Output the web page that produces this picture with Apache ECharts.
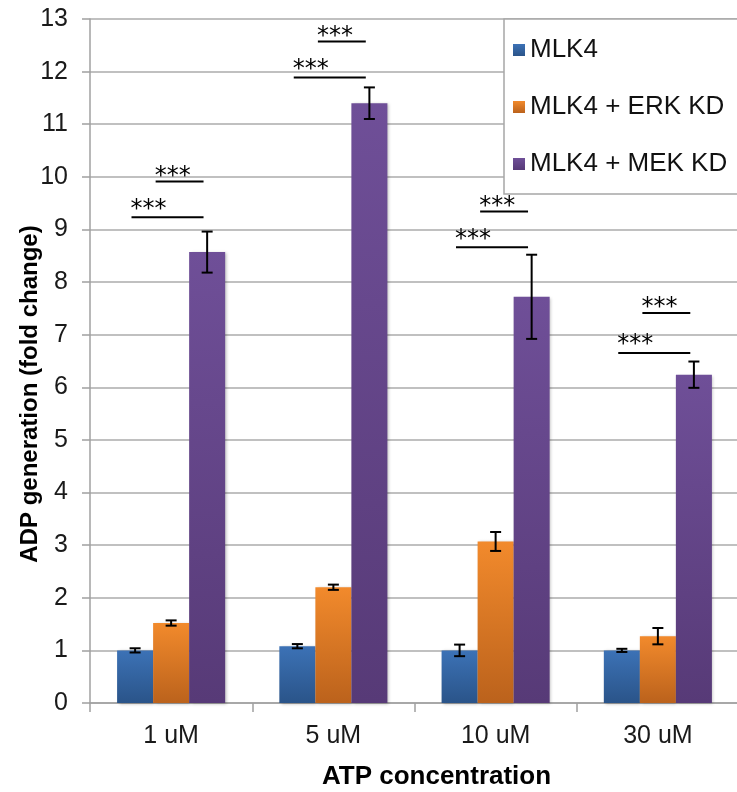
<!DOCTYPE html>
<html>
<head>
<meta charset="utf-8">
<script src="https://cdn.jsdelivr.net/npm/echarts@6/dist/echarts.min.js"></script>
<style>html,body{margin:0;padding:0;background:#fff}#c{width:737px;height:792px}</style>
</head>
<body>
<div id="c"></div>
<script>
const categories = ['1 uM', '5 uM', '10 uM', '30 uM'];
const seriesNames = ['MLK4', 'MLK4 + ERK KD', 'MLK4 + MEK KD'];
const mlk4 = [1.0, 1.08, 1.0, 1.0];
const mlk4Err = [0.04, 0.04, 0.11, 0.03];
const erkKD = [1.52, 2.2, 3.07, 1.27];
const erkKDErr = [0.05, 0.05, 0.18, 0.155];
const mekKD = [8.57, 11.4, 7.72, 6.24];
const mekKDErr = [0.39, 0.3, 0.8, 0.25];
const sigLower = [9.23, 11.89, 8.66, 6.65];   // MLK4 vs MEK KD
const sigUpper = [9.91, 12.57, 9.34, 7.41];   // ERK KD vs MEK KD
const sigLabel = ['***', '***', '***', '***'];
const yTicks = [0, 1, 2, 3, 4, 5, 6, 7, 8, 9, 10, 11, 12, 13];

const FONT = '"Liberation Sans", Arial, sans-serif';
const CAT_GAP = 0.334;

function grad(top, bottom) {
  return new echarts.graphic.LinearGradient(0, 0, 0, 1, [
    { offset: 0, color: top }, { offset: 1, color: bottom }
  ]);
}
const colors = [grad('#3c72b6', '#2a5489'), grad('#f28a2c', '#bb621c'), grad('#6f4f98', '#573a77')];
const values = [mlk4, erkKD, mekKD];
const errs = [mlk4Err, erkKDErr, mekKDErr];

const barSeries = seriesNames.map((n, i) => ({
  name: n,
  type: 'bar',
  data: values[i],
  barGap: '0%',
  barCategoryGap: (CAT_GAP * 100) + '%',
  itemStyle: { color: colors[i], shadowColor: 'rgba(0,0,0,0.25)', shadowBlur: 3, shadowOffsetX: 1.5, shadowOffsetY: 1 },
  emphasis: { disabled: true },
  z: 2
}));

const errSeries = seriesNames.map((n, i) => ({
  type: 'custom',
  silent: true,
  z: 5,
  data: values[i].map((v, k) => [k, v, errs[i][k]]),
  renderItem: function (params, api) {
    const k = api.value(0), v = api.value(1), e = api.value(2);
    const band = api.size([1, 0])[0];
    const bw = band * (1 - CAT_GAP) / 3;
    const top = api.coord([k, v + e]);
    const bot = api.coord([k, v - e]);
    const cx = top[0] + (i - 1) * bw;
    const cap = 5.5;
    const st = { stroke: '#000', lineWidth: 2 };
    return {
      type: 'group',
      children: [
        { type: 'line', shape: { x1: cx, y1: top[1], x2: cx, y2: bot[1] }, style: st },
        { type: 'line', shape: { x1: cx - cap, y1: top[1], x2: cx + cap, y2: top[1] }, style: st },
        { type: 'line', shape: { x1: cx - cap, y1: bot[1], x2: cx + cap, y2: bot[1] }, style: st }
      ]
    };
  }
}));

function sigSeries(data, fromBar, toBar, starLift) {
  return {
    type: 'custom',
    silent: true,
    z: 6,
    data: data.map((v, k) => [k, v]),
    renderItem: function (params, api) {
      const k = api.value(0), v = api.value(1);
      const band = api.size([1, 0])[0];
      const bw = band * (1 - CAT_GAP) / 3;
      const p = api.coord([k, v]);
      const x1 = p[0] + fromBar * bw, x2 = p[0] + toBar * bw;
      return {
        type: 'group',
        children: [
          { type: 'line', shape: { x1: x1, y1: p[1], x2: x2, y2: p[1] }, style: { stroke: '#000', lineWidth: 2 } },
          { type: 'text', x: x1 - 1, y: p[1] - starLift,
            style: { text: sigLabel[k], font: '24px "DejaVu Sans", sans-serif', fill: '#000', textAlign: 'left', textVerticalAlign: 'middle' } }
        ]
      };
    }
  };
}

const option = {
  animation: false,
  backgroundColor: '#fff',
  grid: { left: 90, top: 19, bottom: 89, right: -2, containLabel: false, outerBoundsMode: 'none' },
  legend: {
    orient: 'vertical',
    left: 504, top: 19,
    data: seriesNames,
    icon: 'rect',
    itemWidth: 12, itemHeight: 12,
    itemGap: 31,
    padding: [18, 12, 17, 9],
    backgroundColor: '#fff',
    borderColor: '#a6a6a6', borderWidth: 1.5,
    textStyle: { fontFamily: FONT, fontSize: 26, color: '#111' },
    selectedMode: false,
    z: 10
  },
  xAxis: {
    type: 'category',
    data: categories,
    axisLine: { lineStyle: { color: '#a0a0a0', width: 1.5 } },
    axisTick: { show: true, length: 9, lineStyle: { color: '#a0a0a0', width: 1.5 } },
    axisLabel: { fontFamily: FONT, fontSize: 25, color: '#1a1a1a', margin: 21 },
    name: 'ATP concentration',
    nameLocation: 'middle',
    nameGap: 61,
    nameMoveOverlap: false,
    nameTextStyle: { fontFamily: FONT, fontSize: 26, fontWeight: 'bold', color: '#000', padding: [0, 0, 0, 44] }
  },
  yAxis: {
    type: 'value',
    min: yTicks[0], max: yTicks[yTicks.length - 1], interval: 1,
    axisLine: { show: true, lineStyle: { color: '#a0a0a0', width: 1.5 } },
    axisTick: { show: true, length: 8, lineStyle: { color: '#a0a0a0', width: 1.5 } },
    splitLine: { lineStyle: { color: '#ababab', width: 1.5 } },
    axisLabel: { fontFamily: FONT, fontSize: 25, color: '#1a1a1a', margin: 22 },
    name: 'ADP generation (fold change)',
    nameLocation: 'middle',
    nameGap: 48,
    nameMoveOverlap: false,
    nameTextStyle: { fontFamily: FONT, fontSize: 24, fontWeight: 'bold', color: '#000', padding: [0, 66, 0, 0] }
  },
  series: barSeries.concat(errSeries).concat([
    sigSeries(sigLower, -1.1, 0.9, 8),
    sigSeries(sigUpper, -0.43, 0.9, 5)
  ])
};

const chart = echarts.init(document.getElementById('c'), null, { renderer: 'canvas' });
chart.setOption(option);
</script>
</body>
</html>
